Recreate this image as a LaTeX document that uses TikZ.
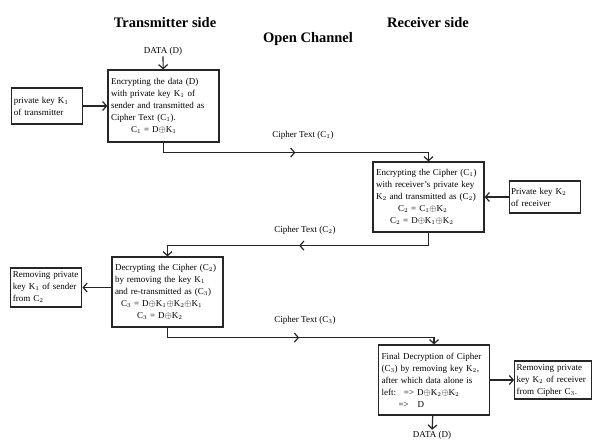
\documentclass[tikz,border=0pt]{standalone}
\usepackage{fontspec}
\setmainfont{Liberation Serif}
\usetikzlibrary{positioning}
\usetikzlibrary{arrows.meta}
\usetikzlibrary{decorations.markings}

\newcommand{\bodyfont}{\fontsize{9}{12}\selectfont\hyphenpenalty=10000}

\begin{document}
\begin{tikzpicture}[
    x=1pt,y=-1pt,
    node distance=24pt,
    process/.style={rectangle,draw=black!85,line width=1.2pt,text width=105pt,minimum height=70pt,inner sep=3pt,align=left,font=\bodyfont},
    keybox/.style={rectangle,draw=black!85,line width=1.2pt,text width=67pt,minimum height=36pt,inner sep=2pt,align=left,font=\bodyfont},
    title/.style={font=\fontsize{14.5}{16}\selectfont\bfseries},
    lbl/.style={font=\bodyfont,inner sep=1pt},
    arr/.style={line width=1.2pt,draw=black!85,-{Straight Barb[length=4pt,width=9pt]}},
    flow/.style={arr,postaction={decorate},decoration={markings,mark=at position 0.5 with {\arrow{Straight Barb[length=4pt,width=9pt]}}}}
    ]
    \useasboundingbox (0,0) rectangle (593,439);
    % headings
    \node (tx) [title] at (165,23) {Transmitter side};
    \node (rx) [title] at (428,23) {Receiver side};
    \node (oc) [title] at (308,39) {Open Channel};
    % transmitter encrypts
    \node (enc1) [process,minimum height=72pt] at (163.5,106) {Encrypting the data (D)\\ with private key K$_1$ of\\ sender and transmitted as\\ Cipher Text (C$_1$).\\ \hspace*{20pt}C$_1$ = D$\oplus$K$_1$};
    \node (data1) [lbl] at (163,51) {DATA (D)};
    \node (key1) [keybox,left=of enc1] {private key K$_1$\\ of transmitter};
    \draw[arr] (data1) -- (enc1);
    \draw[arr] (key1) -- (enc1);
    % receiver encrypts
    \node (enc2) [process] at (428.5,197) {Encrypting the Cipher (C$_1$)\\ with receiver's private key\\ K$_2$ and transmitted as (C$_2$)\\ \hspace*{22pt}C$_2$ = C$_1\oplus$K$_2$\\ \hspace*{14pt}C$_2$ = D$\oplus$K$_1\oplus$K$_2$};
    \node (key2) [keybox,minimum height=32pt,right=of enc2] {Private key K$_2$\\ of receiver};
    \draw[arr] (key2) -- (enc2);
    % transmitter decrypts
    \node (dec1) [process] at (167.5,292) {Decrypting the Cipher (C$_2$)\\ by removing the key K$_1$\\ and re-transmitted as (C$_3$)\\ \hspace*{6pt}C$_3$ = D$\oplus$K$_1\oplus$K$_2\oplus$K$_1$\\ \hspace*{22pt}C$_3$ = D$\oplus$K$_2$};
    \node (rem1) [keybox,minimum height=39pt,left=29pt of dec1,yshift=4.5pt] {Removing private\\ key K$_1$ of sender\\ from C$_2$};
    \draw[arr] (dec1.west |- rem1.east) -- (rem1);
    % receiver decrypts
    \node (dec2) [process] at (434,380) {Final Decryption of Cipher\\ (C$_3$) by removing key K$_2$,\\ after which data alone is\\ left:\hspace{8pt}=> D$\oplus$K$_2\oplus$K$_2$\\ \hspace*{17pt}=>\hspace{9pt}D};
    \node (rem2) [keybox,text width=73pt,minimum height=38pt,right=of dec2] {Removing private\\ key K$_2$ of receiver\\ from Cipher C$_3$.};
    \node (data2) [lbl] at (432,435) {DATA (D)};
    \draw[arr] (dec2) -- (rem2);
    \draw[arr] (dec2) -- (data2);
    % open channel
    \draw[flow] (enc1.south) -- ++(0,10) -| (enc2.north);
    \draw[flow] (enc2.south) -- ++(0,13) -| (dec1.north);
    \draw[flow] (dec1.south) -- ++(0,10) -| (dec2.north);
    \node (ct1) [lbl] at (303,135) {Cipher Text (C$_1$)};
    \node (ct2) [lbl] at (305,230) {Cipher Text (C$_2$)};
    \node (ct3) [lbl] at (305,320) {Cipher Text (C$_3$)};
  \end{tikzpicture}
\end{document}
